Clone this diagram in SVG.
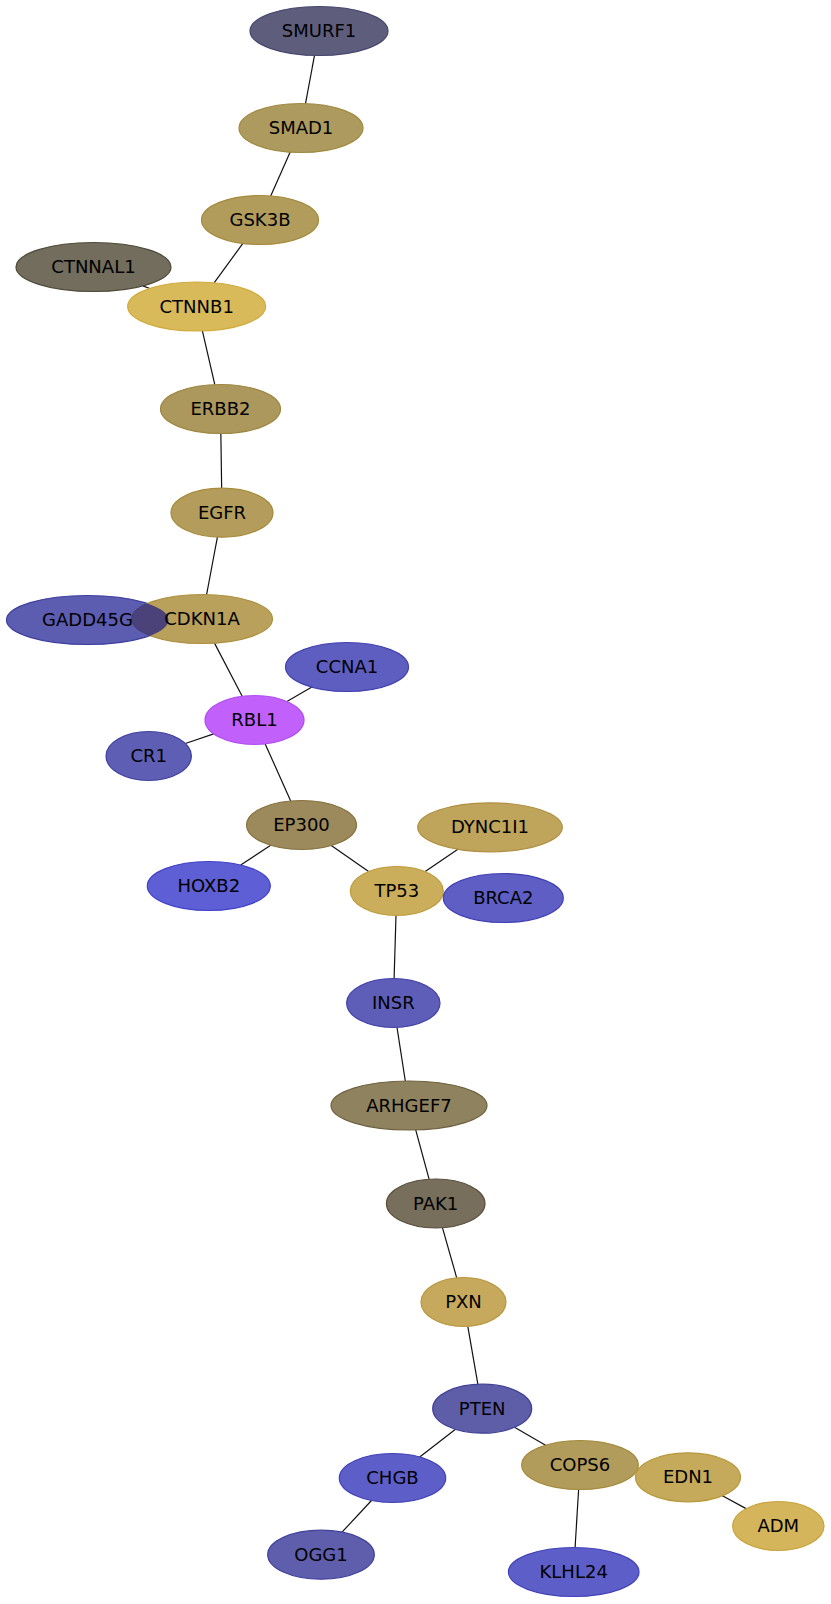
<svg xmlns="http://www.w3.org/2000/svg" width="831" height="1604" viewBox="0 0 831 1604">
<style>
.bg{fill:#ffffff}
.e line{stroke:#111111;stroke-width:1.2}
.n ellipse{stroke-width:1.2}
.n text{font-family:"DejaVu Sans","Liberation Sans",sans-serif;font-size:18px;fill:#000000;text-anchor:middle}
</style>
<defs>
<clipPath id="clipGadd"><ellipse cx="87.5" cy="620" rx="81" ry="24.5"/></clipPath>
</defs>
<rect class="bg" x="0" y="0" width="831" height="1604"/>
<g id="edges" class="e">
<line x1="314.5" y1="55.4" x2="305.5" y2="103.6"/>
<line x1="290.2" y1="152.1" x2="270.7" y2="195.9"/>
<line x1="242.9" y1="243.4" x2="214.1" y2="282.8"/>
<line x1="142.9" y1="285.9" x2="149.8" y2="288.5"/>
<line x1="202.4" y1="330.9" x2="214.8" y2="384.6"/>
<line x1="220.85" y1="433.5" x2="221.65" y2="488.2"/>
<line x1="217.4" y1="537.1" x2="206.6" y2="594.6"/>
<line x1="214.5" y1="643.1" x2="242.2" y2="696.3"/>
<line x1="311.9" y1="687.1" x2="286.9" y2="701.5"/>
<line x1="185.4" y1="743.5" x2="213.7" y2="733.9"/>
<line x1="265.2" y1="743.9" x2="290.7" y2="801.0"/>
<line x1="270.7" y1="845.3" x2="240.7" y2="865.0"/>
<line x1="331.3" y1="845.6" x2="368.6" y2="871.5"/>
<line x1="457.9" y1="849.3" x2="425.2" y2="871.6"/>
<line x1="396.0" y1="915.5" x2="394.1" y2="978.5"/>
<line x1="397.0" y1="1027.4" x2="405.3" y2="1081.0"/>
<line x1="415.7" y1="1129.9" x2="429.1" y2="1179.2"/>
<line x1="442.5" y1="1227.8" x2="456.7" y2="1277.8"/>
<line x1="467.8" y1="1326.4" x2="477.9" y2="1384.3"/>
<line x1="455.5" y1="1429.3" x2="419.7" y2="1457.0"/>
<line x1="514.5" y1="1427.3" x2="545.6" y2="1445.2"/>
<line x1="371.5" y1="1500.5" x2="342.0" y2="1532.2"/>
<line x1="578.6" y1="1489.5" x2="575.1" y2="1547.5"/>
<line x1="636.3" y1="1471.4" x2="637.0" y2="1471.5"/>
<line x1="722.4" y1="1495.8" x2="746.1" y2="1508.6"/>
</g>
<g id="SMURF1" class="n"><ellipse cx="319" cy="31" rx="69" ry="24.5" fill="#5e5e7c" stroke="#45456e"/><text x="319" y="37">SMURF1</text></g>
<g id="SMAD1" class="n"><ellipse cx="301" cy="128" rx="62" ry="24.5" fill="#ad9a5e" stroke="#a08a40"/><text x="301" y="134">SMAD1</text></g>
<g id="GSK3B" class="n"><ellipse cx="260" cy="220" rx="58.5" ry="24.5" fill="#b29c5c" stroke="#a48a3a"/><text x="260" y="226">GSK3B</text></g>
<g id="CTNNAL1" class="n"><ellipse cx="93.5" cy="267" rx="77.5" ry="24.5" fill="#726d5c" stroke="#4f4a3a"/><text x="93.5" y="273">CTNNAL1</text></g>
<g id="CTNNB1" class="n"><ellipse cx="196.7" cy="306.5" rx="69" ry="24.5" fill="#d9ba5b" stroke="#d0ab3a"/><text x="196.7" y="312.5">CTNNB1</text></g>
<g id="ERBB2" class="n"><ellipse cx="220.5" cy="409" rx="60" ry="24.5" fill="#ac975c" stroke="#9d8740"/><text x="220.5" y="415">ERBB2</text></g>
<g id="EGFR" class="n"><ellipse cx="222" cy="512.7" rx="51" ry="24.5" fill="#b49d5c" stroke="#a68a38"/><text x="222" y="518.7">EGFR</text></g>
<g id="GADD45G" class="n"><ellipse cx="87.5" cy="620" rx="81" ry="24.5" fill="#5c5cb0" stroke="#3d3d9f"/></g>
<g id="CDKN1A" class="n"><ellipse cx="202" cy="619" rx="70.5" ry="24.5" fill="#b9a15c" stroke="#ad9040"/><ellipse cx="202" cy="619" rx="70.5" ry="24.5" fill="#4a4278" stroke="#3d3d8f" clip-path="url(#clipGadd)"/><text x="87.5" y="626">GADD45G</text><text x="202" y="625">CDKN1A</text></g>
<g id="CCNA1" class="n"><ellipse cx="347" cy="667" rx="61.5" ry="24.5" fill="#5e5ec0" stroke="#4040b0"/><text x="347" y="673">CCNA1</text></g>
<g id="RBL1" class="n"><ellipse cx="254.5" cy="720" rx="49.5" ry="24.5" fill="#c260fc" stroke="#b04ef0"/><text x="254.5" y="726">RBL1</text></g>
<g id="CR1" class="n"><ellipse cx="148.7" cy="756" rx="42.7" ry="24.5" fill="#5e5eb5" stroke="#4040a0"/><text x="148.7" y="762">CR1</text></g>
<g id="EP300" class="n"><ellipse cx="301.5" cy="825" rx="55" ry="24.5" fill="#9c8a5c" stroke="#85723e"/><text x="301.5" y="831">EP300</text></g>
<g id="DYNC1I1" class="n"><ellipse cx="490" cy="827.3" rx="72.3" ry="24.5" fill="#bfa45c" stroke="#b09040"/><text x="490" y="833.3">DYNC1I1</text></g>
<g id="HOXB2" class="n"><ellipse cx="208.8" cy="886" rx="61.5" ry="24.5" fill="#5e5ed5" stroke="#4040c8"/><text x="208.8" y="892">HOXB2</text></g>
<g id="TP53" class="n"><ellipse cx="396.8" cy="891" rx="46.5" ry="24.5" fill="#cbae5c" stroke="#bf9b3a"/><text x="396.8" y="897">TP53</text></g>
<g id="BRCA2" class="n"><ellipse cx="503.3" cy="898" rx="60" ry="24.5" fill="#5e5ec4" stroke="#4040b4"/><text x="503.3" y="904">BRCA2</text></g>
<g id="INSR" class="n"><ellipse cx="393.3" cy="1003" rx="46.7" ry="24.5" fill="#5e5eb8" stroke="#4040a8"/><text x="393.3" y="1009">INSR</text></g>
<g id="ARHGEF7" class="n"><ellipse cx="409" cy="1105.5" rx="78" ry="24.5" fill="#8f825e" stroke="#6f6240"/><text x="409" y="1111.5">ARHGEF7</text></g>
<g id="PAK1" class="n"><ellipse cx="435.7" cy="1203.5" rx="49.3" ry="24.5" fill="#776e5c" stroke="#5a503e"/><text x="435.7" y="1209.5">PAK1</text></g>
<g id="PXN" class="n"><ellipse cx="463.5" cy="1302" rx="42.5" ry="24.5" fill="#c6a95c" stroke="#b8963a"/><text x="463.5" y="1308">PXN</text></g>
<g id="PTEN" class="n"><ellipse cx="482.2" cy="1408.7" rx="49.5" ry="24.5" fill="#5e5ea8" stroke="#404098"/><text x="482.2" y="1414.7">PTEN</text></g>
<g id="CHGB" class="n"><ellipse cx="392.5" cy="1478" rx="53.2" ry="24.5" fill="#5e5ec8" stroke="#4040b8"/><text x="392.5" y="1484">CHGB</text></g>
<g id="COPS6" class="n"><ellipse cx="580" cy="1465" rx="58.3" ry="24.5" fill="#b29c5c" stroke="#a48a3a"/><text x="580" y="1471">COPS6</text></g>
<g id="OGG1" class="n"><ellipse cx="321" cy="1554.7" rx="53.3" ry="24.5" fill="#5e5eac" stroke="#40409c"/><text x="321" y="1560.7">OGG1</text></g>
<g id="KLHL24" class="n"><ellipse cx="573.7" cy="1572" rx="65.3" ry="24.5" fill="#5e5ec8" stroke="#4040b8"/><text x="573.7" y="1578">KLHL24</text></g>
<g id="EDN1" class="n"><ellipse cx="688" cy="1477.3" rx="52.5" ry="24.5" fill="#c5aa5c" stroke="#b89838"/><text x="688" y="1483.3">EDN1</text></g>
<g id="ADM" class="n"><ellipse cx="778.3" cy="1526" rx="45.7" ry="24.5" fill="#d5b55b" stroke="#c8a23a"/><text x="778.3" y="1532">ADM</text></g>
</svg>
